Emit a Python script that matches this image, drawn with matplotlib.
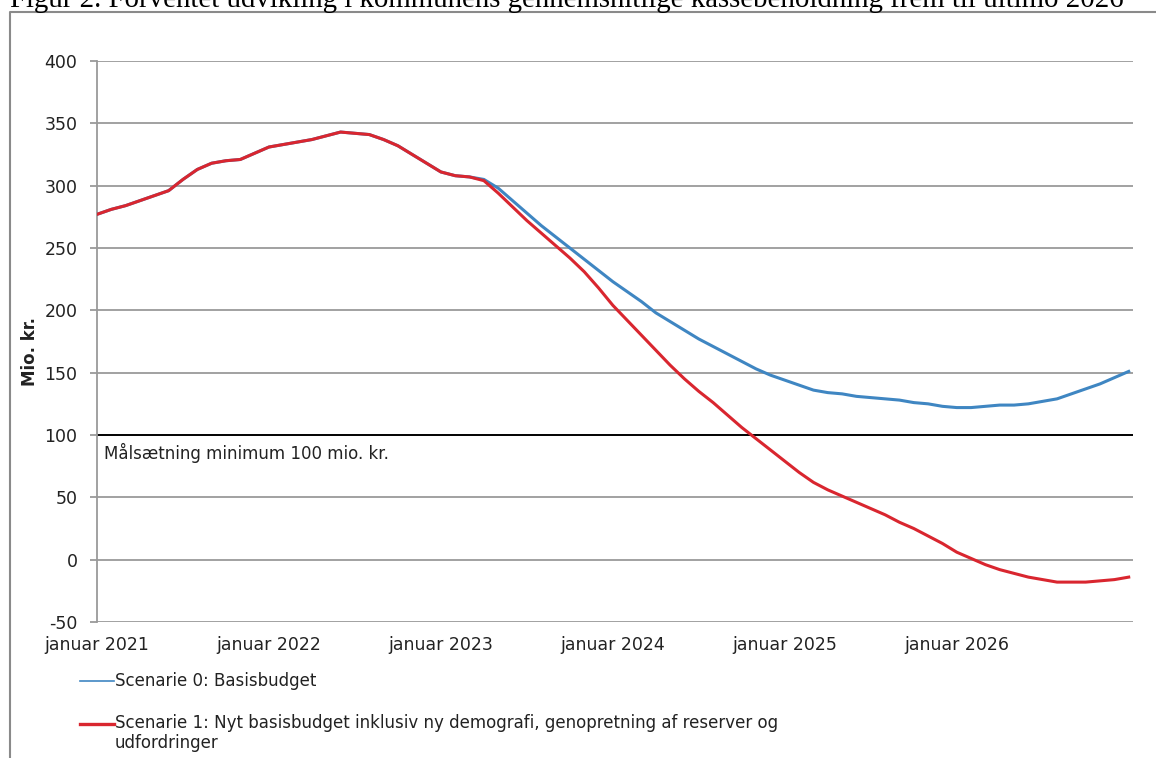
import numpy as np
import matplotlib.pyplot as plt
from matplotlib.lines import Line2D

plt.rcParams['axes.unicode_minus'] = False

# months since januar 2021 (monthly readings)
months = np.arange(73)

scen0 = [277, 281, 284, 288, 292, 296, 305, 313, 318, 320, 321, 326,
         331, 333, 335, 337, 340, 343, 342, 341, 337, 332, 325, 318,
         311, 308, 307, 305, 298, 288, 278, 268, 259, 250, 241, 232,
         223, 215, 207, 198, 191, 184, 177, 171, 165, 159, 153, 148,
         144, 140, 136, 134, 133, 131, 130, 129, 128, 126, 125, 123,
         122, 122, 123, 124, 124, 125, 127, 129, 133, 137, 141, 146,
         151]

scen1 = [277, 281, 284, 288, 292, 296, 305, 313, 318, 320, 321, 326,
         331, 333, 335, 337, 340, 343, 342, 341, 337, 332, 325, 318,
         311, 308, 307, 304, 294, 283, 272, 262, 252, 242, 231, 218,
         204, 192, 180, 168, 156, 145, 135, 126, 116, 106, 97, 88,
         79, 70, 62, 56, 51, 46, 41, 36, 30, 25, 19, 13,
         6, 1, -4, -8, -11, -14, -16, -18, -18, -18, -17, -16,
         -14]

tick_pos = [0, 12, 24, 36, 48, 60]
tick_lab = ['januar 2021', 'januar 2022', 'januar 2023',
            'januar 2024', 'januar 2025', 'januar 2026']
yticks = [-50, 0, 50, 100, 150, 200, 250, 300, 350, 400]

title = 'Figur 2. Forventet udvikling i kommunens gennemsnitlige kassebeholdning frem til ultimo 2026'
lab0 = 'Scenarie 0: Basisbudget'
lab1a = 'Scenarie 1: Nyt basisbudget inklusiv ny demografi, genopretning af reserver og'
lab1b = 'udfordringer'

W, H = 1156, 758
fig = plt.figure(figsize=(W/100, H/100), dpi=100)
ax = fig.add_axes([97/W, 1-622/H, (1133-97)/W, (622-61)/H])

blue = '#3f86c2'
red = '#d9262f'
grey = '#9a9a9a'
txt = '#222222'

for y in yticks:
    if y == 100:
        ax.axhline(y, color='black', lw=1.4, zorder=1)
    else:
        ax.axhline(y, color=grey, lw=1.3, zorder=1)

ax.plot(months, scen0, color=blue, lw=2.2, zorder=3)
ax.plot(months, scen1, color=red, lw=2.2, zorder=4)

ax.set_xlim(0, 72.3)
ax.set_ylim(-50, 400)
ax.set_yticks(yticks)
ax.set_xticks(tick_pos)
ax.set_xticklabels(tick_lab)

for s in ['top', 'right', 'bottom']:
    ax.spines[s].set_visible(False)
ax.spines['left'].set_color(grey)
ax.spines['left'].set_linewidth(1.3)
ax.tick_params(axis='y', length=5, color=grey, width=1.3, pad=9, labelsize=12.5, labelcolor=txt)
ax.tick_params(axis='x', length=0, pad=10, labelsize=12.5, labelcolor=txt)

fig.text(104/W, 1-453/H, 'Målsætning minimum 100 mio. kr.', ha='left', va='center',
         fontsize=12, color=txt)

fig.text(30/W, 1-352/H, 'Mio. kr.', rotation=90, ha='center', va='center',
         fontsize=12, fontweight='bold', color=txt)

fig.text(10/W, 1-7/H, title, ha='left', va='baseline', family='Liberation Serif',
         fontsize=20.8, color='black')

# frame round the chart
fig.add_artist(Line2D([10/W, 10/W, 1.0], [0, 1-12/H, 1-12/H],
                      transform=fig.transFigure, color='#8a8a8a', lw=1.5))

# legend below the plot
fig.add_artist(Line2D([80/W, 114/W], [1-681/H, 1-681/H], transform=fig.transFigure,
                      color=blue, lw=1.2))
fig.add_artist(Line2D([80/W, 114/W], [1-724/H, 1-724/H], transform=fig.transFigure,
                      color=red, lw=2.4))
fig.text(115/W, 1-681/H, lab0, ha='left', va='center', fontsize=12, color=txt)
fig.text(115/W, 1-723/H, lab1a, ha='left', va='center', fontsize=12, color=txt)
fig.text(115/W, 1-743/H, lab1b, ha='left', va='center', fontsize=12, color=txt)

fig.savefig('out.png', dpi=100)
